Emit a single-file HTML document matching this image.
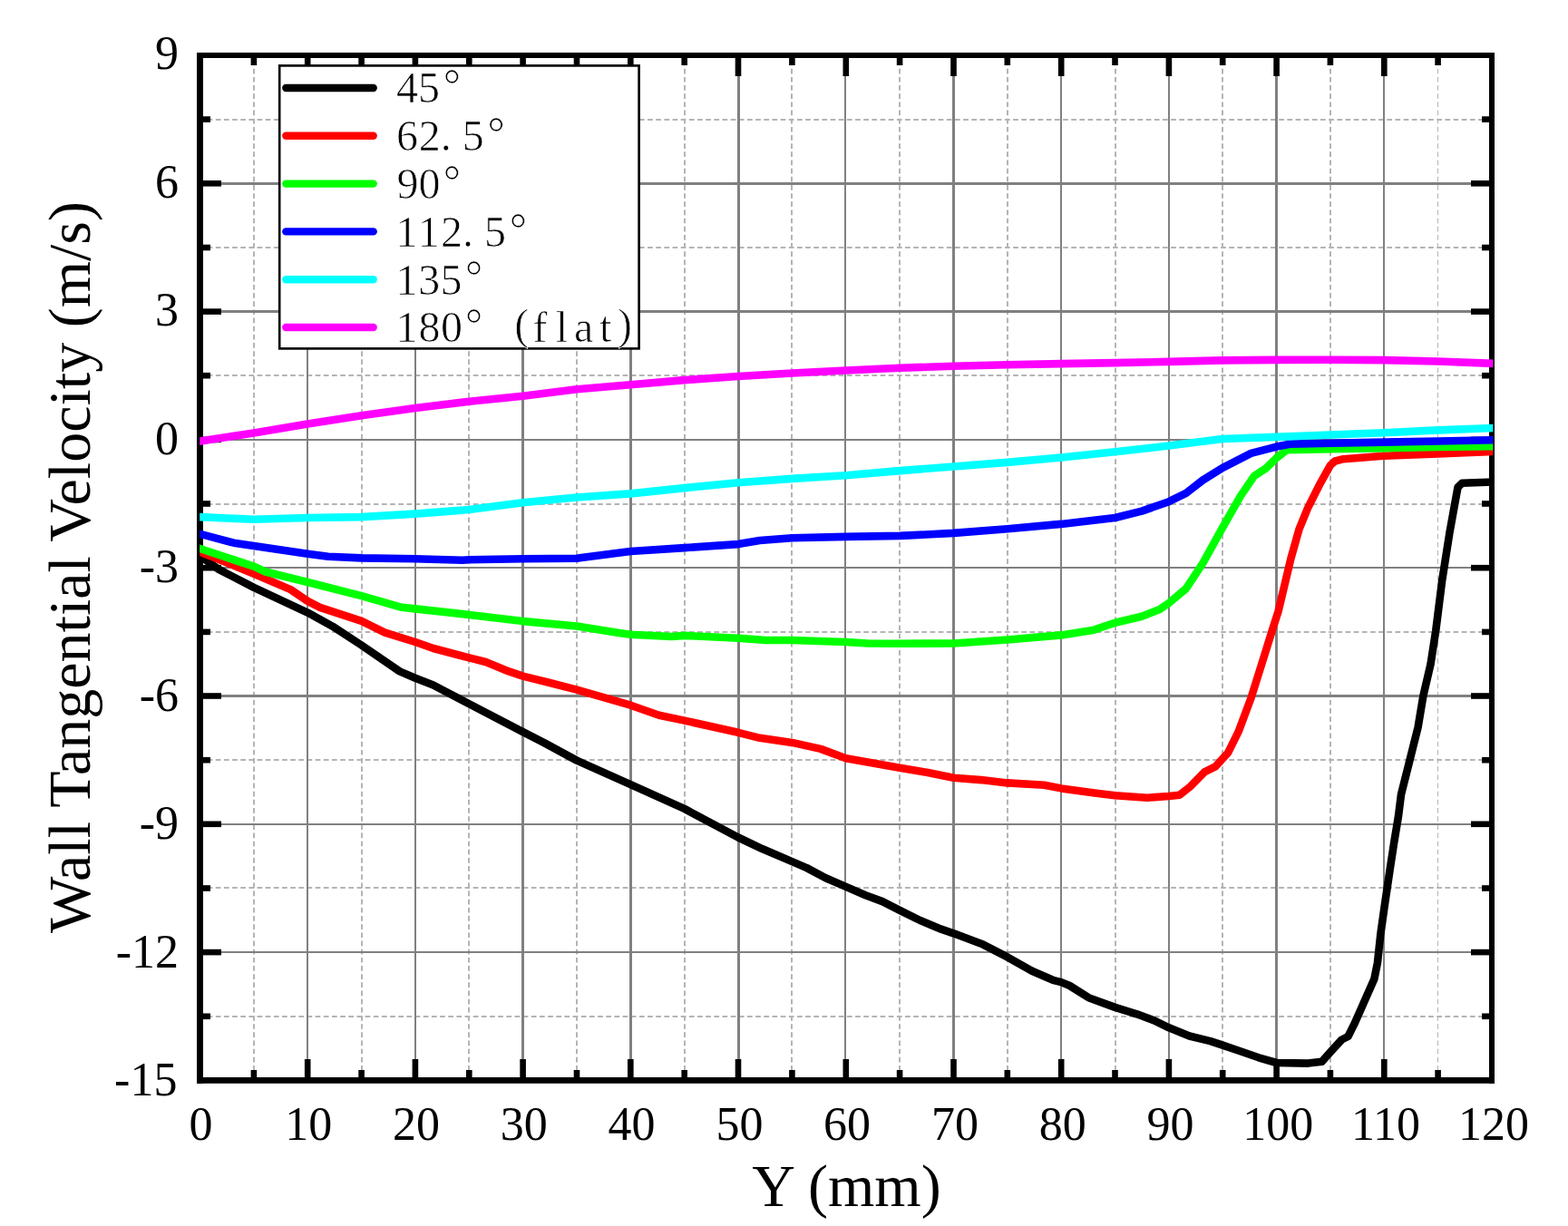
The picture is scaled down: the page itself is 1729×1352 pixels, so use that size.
<!DOCTYPE html>
<html lang="en"><head><meta charset="utf-8">
<title>Wall Tangential Velocity vs Y</title>
<style>
html,body{margin:0;padding:0;background:#fff;}
body{width:1729px;height:1352px;overflow:hidden;}
svg{display:block;}
.tl{font-family:"Liberation Serif","Times New Roman",serif;font-size:52px;fill:#000;}
.at{font-family:"Liberation Serif","Times New Roman",serif;font-size:66px;fill:#000;}
.lg{font-family:"Liberation Serif","Times New Roman",serif;font-size:48px;fill:#000;stroke:#fff;stroke-width:0.7px;}
</style></head><body>
<svg width="1729" height="1352" viewBox="0 0 1729 1352">
<rect x="0" y="0" width="1729" height="1352" fill="#fff"/>
<g fill="none" stroke="#b4b4b4" stroke-width="2" stroke-dasharray="5.7 3.46">
<path d="M280 66.6 V1188.4"/>
<path d="M399 66.6 V1188.4"/>
<path d="M517 66.6 V1188.4"/>
<path d="M636 66.6 V1188.4"/>
<path d="M755 66.6 V1188.4"/>
<path d="M873 66.6 V1188.4"/>
<path d="M992 66.6 V1188.4"/>
<path d="M1111 66.6 V1188.4"/>
<path d="M1230 66.6 V1188.4"/>
<path d="M1348 66.6 V1188.4"/>
<path d="M1467 66.6 V1188.4"/>
<path stroke-width="1" d="M1585.5 66.6 V1188.4"/>
<path d="M228.6 132 H1642"/>
<path d="M228.6 273 H1642"/>
<path d="M228.6 414 H1642"/>
<path d="M228.6 556 H1642"/>
<path d="M228.6 697 H1642"/>
<path d="M228.6 838 H1642"/>
<path d="M228.6 979 H1642"/>
<path d="M228.6 1121 H1642"/>
</g>
<g fill="#808080">
<rect x="338" y="61" width="2" height="1130.4"/>
<rect x="457" y="61" width="2" height="1130.4"/>
<rect x="575" y="61" width="3" height="1130.4"/>
<rect x="694" y="61" width="3" height="1130.4"/>
<rect x="813" y="61" width="3" height="1130.4"/>
<rect x="931" y="61" width="2" height="1130.4"/>
<rect x="1050" y="61" width="3" height="1130.4"/>
<rect x="1169" y="61" width="2" height="1130.4"/>
<rect x="1288" y="61" width="2" height="1130.4"/>
<rect x="1406" y="61" width="3" height="1130.4"/>
<rect x="1525" y="61" width="2" height="1130.4"/>
<rect x="220.5" y="201" width="1424.5" height="3"/>
<rect x="220.5" y="342" width="1424.5" height="3"/>
<rect x="220.5" y="484" width="1424.5" height="2"/>
<rect x="220.5" y="625" width="1424.5" height="2"/>
<rect x="220.5" y="766" width="1424.5" height="3"/>
<rect x="220.5" y="908" width="1424.5" height="2"/>
<rect x="220.5" y="1049" width="1424.5" height="2"/>
</g>
<g fill="#000">
<rect x="217" y="58" width="7" height="1137"/>
<rect x="1642" y="58" width="6" height="1137"/>
<rect x="217" y="58" width="1431" height="6"/>
<rect x="217" y="1188" width="1431" height="6.8"/>
<rect x="276.6" y="63" width="6.6" height="9"/>
<rect x="276.6" y="1180" width="6.6" height="9"/>
<rect x="335.9" y="63" width="6.6" height="21"/>
<rect x="335.9" y="1168" width="6.6" height="21"/>
<rect x="395.3" y="63" width="6.6" height="9"/>
<rect x="395.3" y="1180" width="6.6" height="9"/>
<rect x="454.6" y="63" width="6.6" height="21"/>
<rect x="454.6" y="1168" width="6.6" height="21"/>
<rect x="514" y="63" width="6.6" height="9"/>
<rect x="514" y="1180" width="6.6" height="9"/>
<rect x="573.3" y="63" width="6.6" height="21"/>
<rect x="573.3" y="1168" width="6.6" height="21"/>
<rect x="632.7" y="63" width="6.6" height="9"/>
<rect x="632.7" y="1180" width="6.6" height="9"/>
<rect x="692" y="63" width="6.6" height="21"/>
<rect x="692" y="1168" width="6.6" height="21"/>
<rect x="751.4" y="63" width="6.6" height="9"/>
<rect x="751.4" y="1180" width="6.6" height="9"/>
<rect x="810.7" y="63" width="6.6" height="21"/>
<rect x="810.7" y="1168" width="6.6" height="21"/>
<rect x="870.1" y="63" width="6.6" height="9"/>
<rect x="870.1" y="1180" width="6.6" height="9"/>
<rect x="929.5" y="63" width="6.6" height="21"/>
<rect x="929.5" y="1168" width="6.6" height="21"/>
<rect x="988.8" y="63" width="6.6" height="9"/>
<rect x="988.8" y="1180" width="6.6" height="9"/>
<rect x="1048.2" y="63" width="6.6" height="21"/>
<rect x="1048.2" y="1168" width="6.6" height="21"/>
<rect x="1107.5" y="63" width="6.6" height="9"/>
<rect x="1107.5" y="1180" width="6.6" height="9"/>
<rect x="1166.9" y="63" width="6.6" height="21"/>
<rect x="1166.9" y="1168" width="6.6" height="21"/>
<rect x="1226.2" y="63" width="6.6" height="9"/>
<rect x="1226.2" y="1180" width="6.6" height="9"/>
<rect x="1285.6" y="63" width="6.6" height="21"/>
<rect x="1285.6" y="1168" width="6.6" height="21"/>
<rect x="1344.9" y="63" width="6.6" height="9"/>
<rect x="1344.9" y="1180" width="6.6" height="9"/>
<rect x="1404.3" y="63" width="6.6" height="21"/>
<rect x="1404.3" y="1168" width="6.6" height="21"/>
<rect x="1463.6" y="63" width="6.6" height="9"/>
<rect x="1463.6" y="1180" width="6.6" height="9"/>
<rect x="1523" y="63" width="6.6" height="21"/>
<rect x="1523" y="1168" width="6.6" height="21"/>
<rect x="1582.3" y="63" width="6.6" height="9"/>
<rect x="1582.3" y="1180" width="6.6" height="9"/>
<rect x="223" y="128.3" width="9" height="6.6"/>
<rect x="1634" y="128.3" width="9" height="6.6"/>
<rect x="223" y="199" width="21" height="6.6"/>
<rect x="1622" y="199" width="21" height="6.6"/>
<rect x="223" y="269.7" width="9" height="6.6"/>
<rect x="1634" y="269.7" width="9" height="6.6"/>
<rect x="223" y="340.3" width="21" height="6.6"/>
<rect x="1622" y="340.3" width="21" height="6.6"/>
<rect x="223" y="410.9" width="9" height="6.6"/>
<rect x="1634" y="410.9" width="9" height="6.6"/>
<rect x="223" y="481.6" width="21" height="6.6"/>
<rect x="1622" y="481.6" width="21" height="6.6"/>
<rect x="223" y="552.2" width="9" height="6.6"/>
<rect x="1634" y="552.2" width="9" height="6.6"/>
<rect x="223" y="622.9" width="21" height="6.6"/>
<rect x="1622" y="622.9" width="21" height="6.6"/>
<rect x="223" y="693.6" width="9" height="6.6"/>
<rect x="1634" y="693.6" width="9" height="6.6"/>
<rect x="223" y="764.2" width="21" height="6.6"/>
<rect x="1622" y="764.2" width="21" height="6.6"/>
<rect x="223" y="834.9" width="9" height="6.6"/>
<rect x="1634" y="834.9" width="9" height="6.6"/>
<rect x="223" y="905.5" width="21" height="6.6"/>
<rect x="1622" y="905.5" width="21" height="6.6"/>
<rect x="223" y="976.2" width="9" height="6.6"/>
<rect x="1634" y="976.2" width="9" height="6.6"/>
<rect x="223" y="1046.8" width="21" height="6.6"/>
<rect x="1622" y="1046.8" width="21" height="6.6"/>
<rect x="223" y="1117.5" width="9" height="6.6"/>
<rect x="1634" y="1117.5" width="9" height="6.6"/>
</g>
<clipPath id="cp"><rect x="220.2" y="64" width="1426.1" height="1124"/></clipPath>
<g fill="none" stroke-width="8.6" stroke-linejoin="round" stroke-linecap="square" clip-path="url(#cp)">
<path stroke="#000000" d="M220.5 613.1 L241.7 628.2 L279.9 647.8 L339.2 675.6 L366.7 690.7 L398.6 711.5 L440.7 740.4 L457.9 747.8 L477.8 755.5 L517.3 776.3 L576.6 807.1 L600 819.1 L636 838.6 L695.3 865.2 L754.7 891.9 L814 923.5 L841 936.3 L873.4 950.1 L889.6 957.1 L910.5 968.2 L932.8 977.9 L954.4 987.2 L973 994.1 L992.1 1003.8 L1014.6 1015 L1037.8 1024.7 L1051.5 1029.3 L1084 1041.6 L1110.8 1055.4 L1137.9 1070.8 L1161 1080.8 L1170.2 1083.1 L1179.5 1087 L1200.4 1100.2 L1229.5 1110.9 L1253.6 1118.3 L1272.1 1125.2 L1288.9 1133.3 L1311.5 1142.5 L1334.6 1148.1 L1348.2 1152.6 L1364.7 1158.3 L1387.9 1166.3 L1407.6 1172 L1442.5 1172.6 L1457.5 1170.8 L1466.8 1160.4 L1479.5 1146.5 L1486.5 1143 L1493.4 1129.2 L1502.7 1108.3 L1515.4 1079.4 L1518.9 1062 L1522.4 1029.6 L1527 997.2 L1532.8 957.9 L1537.4 927.8 L1542 900 L1545 876.1 L1554.3 839.1 L1563.6 802 L1569.4 767.3 L1577.5 732.6 L1583.2 695.6 L1590.2 640 L1598.3 588.3 L1604.1 556 L1607.5 537.4 L1612.2 532.8 L1645 531.6"/>
<path stroke="#ff0000" d="M220.5 608.5 L279.9 632.7 L320.4 650.1 L339.2 662.9 L352.8 669.8 L398.6 684.9 L424.5 697.6 L457.9 708 L477.8 715 L517.3 725.4 L535.6 730 L561.1 740.4 L576.6 745.6 L606.3 753 L636 760.6 L695.3 777.7 L726.7 788.8 L754.7 794.6 L814 807.8 L837.8 813.8 L873.4 818.9 L904.9 825.9 L932.8 836.3 L992.1 846.7 L1021.9 851.8 L1051.5 857.8 L1082 860.1 L1110.8 863.4 L1151.5 865.7 L1170.2 869.4 L1207 874.5 L1229.5 877.3 L1264.9 879.8 L1288.9 878 L1300.8 876.7 L1312.4 867.5 L1328.6 851.1 L1340.2 845.3 L1354.1 830.1 L1365.6 806.9 L1379.5 769.7 L1391.1 732.7 L1402.7 695.6 L1409.6 674 L1423.4 616 L1432.5 583.7 L1441.9 560.6 L1455.9 532.8 L1466.9 513.1 L1472.1 508.5 L1481.4 506.2 L1526.3 502.7 L1585.6 500.4 L1645 498"/>
<path stroke="#00ff00" d="M220.5 605 L279.9 624.7 L292.6 630.5 L339.2 642 L398.6 657.1 L443 669.8 L457.9 671.4 L517.3 677.9 L576.6 685.1 L636 690.5 L682.7 698.1 L695.3 699.7 L740.6 702 L754.7 700.9 L814 703.7 L844.7 706 L873.4 706 L932.8 708 L957 709.5 L992.1 709.7 L1051.5 709.5 L1110.8 705.5 L1170.2 700.4 L1204.7 695.1 L1229.5 686.7 L1259.1 679.7 L1278.8 672 L1288.9 665 L1307.8 649.1 L1326.3 621.2 L1348.2 581.7 L1368 546.9 L1383 524.8 L1395.7 516.6 L1407.6 505 L1418.9 496.2 L1466.9 495.3 L1526.3 494.1 L1585.6 493 L1645 492.3"/>
<path stroke="#0000ff" d="M220.5 588.8 L257.9 598.7 L279.9 602 L339.2 610.8 L362 613.8 L398.6 615.4 L457.9 616.3 L510 617.7 L517.3 617.3 L576.6 616.2 L636 615.7 L641 615 L695.3 608 L754.7 604.1 L814 600.1 L837.8 596 L873.4 593.2 L932.8 591.9 L992.1 590.9 L1051.5 587.9 L1110.8 583.2 L1170.2 577.9 L1229.5 571 L1259.1 563.6 L1288.9 553.2 L1307.8 543.8 L1326.3 529.5 L1348.2 515.9 L1379.5 499.9 L1407.6 492.6 L1423.5 489.6 L1466.9 488.8 L1526.3 487.6 L1585.6 486.5 L1645 485.3"/>
<path stroke="#00ffff" d="M220.5 570.1 L279.9 572.8 L339.2 571 L398.6 570.1 L457.9 566.6 L517.3 562 L576.6 554.3 L636 548.5 L695.3 544.4 L754.7 538.1 L814 532.3 L873.4 527.9 L932.8 524.2 L992.1 519.1 L1051.5 514.5 L1110.8 509.9 L1170.2 504.5 L1229.5 498.3 L1288.9 491.6 L1348.2 484 L1407.6 481.9 L1466.9 479.5 L1526.3 477.2 L1585.6 474.4 L1645 472.1"/>
<path stroke="#ff00ff" d="M220.5 486.5 L279.9 477.5 L339.2 467.5 L398.6 458.2 L457.9 450.1 L517.3 442.7 L576.6 436.7 L636 429.3 L695.3 424.2 L754.7 419.1 L814 415 L873.4 411.5 L932.8 408.5 L992.1 405.7 L1051.5 403.8 L1110.8 402.2 L1170.2 401.1 L1229.5 400.1 L1288.9 398.9 L1348.2 397.4 L1407.6 396.9 L1466.9 396.7 L1526.3 397.1 L1585.6 398.5 L1645 400.8"/>
</g>
<g class="tl" text-anchor="middle">
<text x="221.4" y="1257">0</text>
<text x="340.2" y="1257">10</text>
<text x="459" y="1257">20</text>
<text x="577.8" y="1257">30</text>
<text x="696.6" y="1257">40</text>
<text x="815.4" y="1257">50</text>
<text x="934.1" y="1257">60</text>
<text x="1052.9" y="1257">70</text>
<text x="1171.7" y="1257">80</text>
<text x="1290.5" y="1257">90</text>
<text x="1409.3" y="1257">100</text>
<text x="1528.1" y="1257">110</text>
<text x="1646.9" y="1257">120</text>
</g>
<g class="tl" text-anchor="end">
<text x="197" y="76.2">9</text>
<text x="197" y="217.7">6</text>
<text x="197" y="359.2">3</text>
<text x="197" y="500.7">0</text>
<text x="197" y="642.2">-3</text>
<text x="197" y="783.7">-6</text>
<text x="197" y="925.1">-9</text>
<text x="197" y="1066.6">-12</text>
<text x="195.4" y="1208.1">-15</text>
</g>
<text class="at" text-anchor="middle" x="933.5" y="1330">Y (mm)</text>
<text class="at" text-anchor="middle" transform="translate(98.5 625.5) rotate(-90)">Wall Tangential Velocity (m/s)</text>
<rect x="308.2" y="72.4" width="396.4" height="312" fill="#fff" stroke="#000" stroke-width="2.6"/>
<g fill="none" stroke-width="8.4" stroke-linecap="round">
<path stroke="#000000" d="M315.3 97 H411.7"/>
<path stroke="#ff0000" d="M315.3 149.8 H411.7"/>
<path stroke="#00ff00" d="M315.3 202.6 H411.7"/>
<path stroke="#0000ff" d="M315.3 255.4 H411.7"/>
<path stroke="#00ffff" d="M315.3 308.2 H411.7"/>
<path stroke="#ff00ff" d="M315.3 361 H411.7"/>
</g>
<g class="lg">
<text x="437.1 461.1 488.8" y="113.4 113.4 110.2">45°</text>
<text x="436.9 461.8 485.7 509.7 537.5" y="166.2 166.2 166.2 166.2 163">62.5°</text>
<text x="437.5 461.6 488.8" y="219 219 215.8">90°</text>
<text x="436.5 460.8 486.1 510 534 561.8" y="271.8 271.8 271.8 271.8 271.8 268.6">112.5°</text>
<text x="436.5 461.3 485.4 513.1" y="324.6 324.6 324.6 321.4">135°</text>
<text x="436.5 461.6 485.9 513.1 540.9 567.3 587.4 612.7 633 661.1 681" y="377.4 377.4 377.4 374.2 377.4 373.9 377.4 377.4 377.4 377.4 373.9">180° (flat)</text>
</g>
</svg>
</body></html>
